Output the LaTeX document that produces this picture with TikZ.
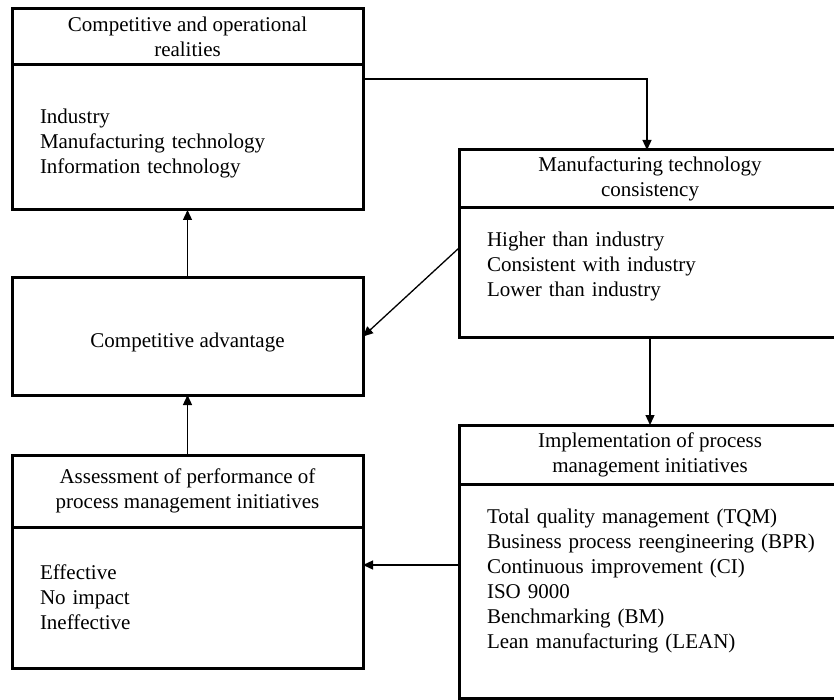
\documentclass[tikz,border=0pt]{standalone}
\usepackage{fontspec}
\setmainfont{Liberation Serif}
\usetikzlibrary{positioning,arrows.meta}

\begin{document}
\begin{tikzpicture}
  [x=1pt,y=-1pt,every node/.style={draw,line width=3pt,outer sep=0pt,inner sep=0pt,font=\fontsize{21}{25}\selectfont}]
 \tikzset{head/.style={align=center,minimum height=#1}}
 \tikzset{list/.style={align=left,minimum height=#1,inner xsep=28pt,anchor=north west}}
 \tikzset{link/.style={line width=1.3pt,-{Triangle[length=10pt,width=9pt]}}}
 \useasboundingbox (0,0) rectangle (834,700);
 \clip (0,0) rectangle (834,700);

 \node[head=56pt,minimum width=351pt] (realh) at (187.5,37) {Competitive and operational\\realities};
 \node[list=145pt,text width=295pt] (real) at (realh.south west) {\rule{0pt}{27pt}Industry\\Manufacturing technology\\Information technology};
 \node[head=58pt,minimum width=382pt] (mtch) at (650,179) {Manufacturing technology\\consistency};
 \node[list=129pt,text width=326pt] (mtc) at (mtch.south west) {Higher than industry\\Consistent with industry\\Lower than industry\rule[-17pt]{0pt}{0pt}};
 \node[minimum width=351pt,minimum height=117pt] (adv) at (187.5,336.5) {\rule{0pt}{27pt}Competitive advantage};
 \node[head=72pt,minimum width=351pt] (assh) at (187.5,491) {Assessment of performance of\\process management initiatives};
 \node[list=141pt,text width=295pt] (ass) at (assh.south west) {Effective\\No impact\\Ineffective};
 \node[head=59pt,minimum width=382pt] (imph) at (650,454.5) {Implementation of process\\management initiatives};
 \node[list=214pt,text width=360pt] (imp) at (imph.south west) {Total quality management (TQM)\\Business process reengineering (BPR)\\Continuous improvement (CI)\\ISO 9000\\Benchmarking (BM)\\Lean manufacturing (LEAN)\rule[-25pt]{0pt}{0pt}};

 \coordinate (assin) at ([yshift=-38pt]ass.north east);
 \draw[link] ([yshift=-14pt]real.north east) -| ([xshift=-3pt]mtch.north);
 \draw[link] ([yshift=-40pt]mtc.north west) -- (adv.east);
 \draw[link] (imp.west |- assin) -- (assin);
 \foreach \from/\to in {adv.north/real.south,mtc.south/imph.north,assh.north/adv.south}
    \draw[link] (\from) -- (\to);

\end{tikzpicture}
\end{document}
